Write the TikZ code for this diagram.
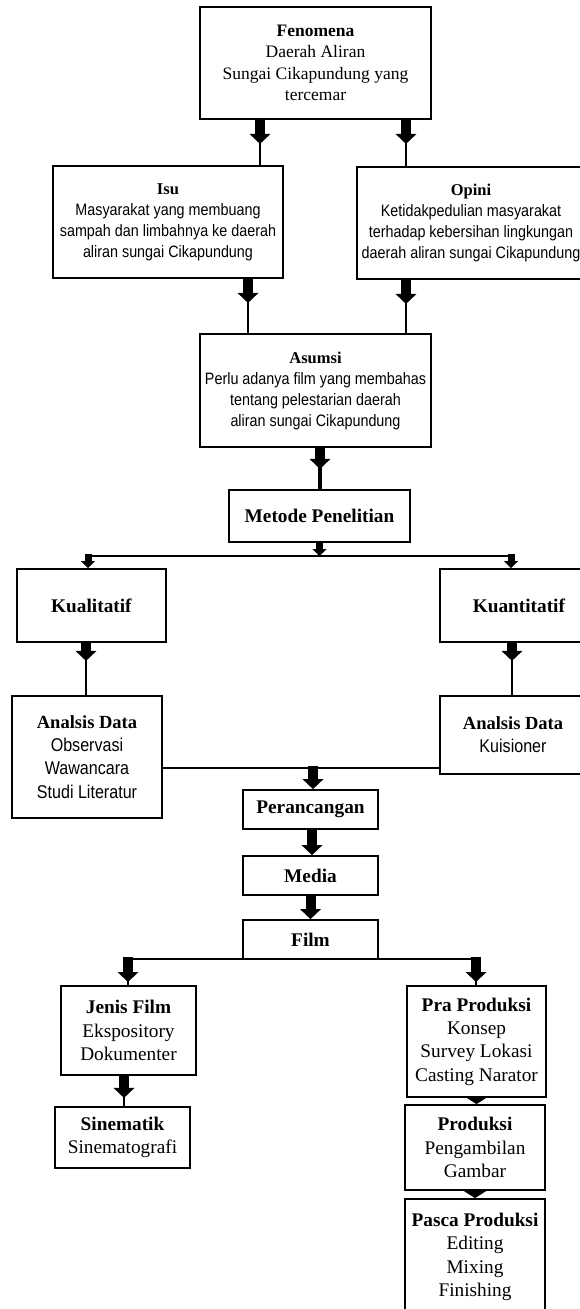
\documentclass[tikz,border=0pt]{standalone}
\usepackage{fontspec}
\setmainfont{Liberation Serif}
\newfontfamily\narrowsans{Liberation Sans}[FakeStretch=0.87]
\usetikzlibrary{arrows.meta}
\tikzset{
  box/.style={draw, line width=1.8pt, align=center, inner sep=0pt},
  smallfont/.style={font=\fontsize{16.5}{21}\selectfont},
  midfont/.style={font=\fontsize{17.5}{21.3}\selectfont},
  bigfont/.style={font=\fontsize{19.3}{23.4}\selectfont},
  link/.style={line width=1.3pt},
  blockarrow/.style={line width=10pt, -{Triangle[width=21pt,length=10pt,line width=0pt]}},
  arrowsmall/.style={line width=7pt, -{Triangle[width=14pt,length=7pt,line width=0pt]}},
  arrowtiny/.style={line width=8pt, -{Triangle[width=22pt,length=7pt,line width=0pt]}}
}
\begin{document}
\begin{tikzpicture}[x=1pt, y=-1pt]
    \useasboundingbox (0, 0) rectangle (579, 1309) ;
    \node[box, midfont, minimum width=231pt, minimum height=112pt] (fen) at (315.5, 63)
      {\textbf{Fenomena}\\Daerah Aliran\\Sungai Cikapundung yang\\tercemar} ;
    \node[box, smallfont, minimum width=230pt, minimum height=112pt] (isu) at (168, 222)
      {\textbf{Isu}\\{\narrowsans Masyarakat yang membuang}\\{\narrowsans sampah dan limbahnya ke daerah}\\{\narrowsans aliran sungai Cikapundung}} ;
    \node[box, smallfont, minimum width=228pt, minimum height=112pt] (opini) at (471, 223)
      {\textbf{Opini}\\{\narrowsans Ketidakpedulian masyarakat}\\{\narrowsans terhadap kebersihan lingkungan}\\{\narrowsans daerah aliran sungai Cikapundung}} ;
    \node[box, smallfont, minimum width=231pt, minimum height=113pt] (asumsi) at (315.5, 390.5)
      {\textbf{Asumsi}\\{\narrowsans Perlu adanya film yang membahas}\\{\narrowsans tentang pelestarian daerah}\\{\narrowsans aliran sungai Cikapundung}} ;
    \node[box, bigfont, minimum width=181pt, minimum height=52pt] (metode) at (319.5, 516) {\textbf{Metode Penelitian}} ;
    \node[box, bigfont, minimum width=149pt, minimum height=73pt] (kuali) at (91.5, 605.5) {\textbf{Kualitatif}} ;
    \node[box, bigfont, minimum width=158pt, minimum height=73pt] (kuanti) at (519, 605.5) {\textbf{Kuantitatif}} ;
    \node[box, font=\fontsize{18.5}{23.3}\selectfont, minimum width=150pt, minimum height=122pt] (anakual) at (87, 757)
      {\textbf{Analsis Data}\\{\narrowsans Observasi}\\{\narrowsans Wawancara}\\{\narrowsans Studi Literatur}} ;
    \node[box, font=\fontsize{18.5}{23.3}\selectfont, minimum width=146pt, minimum height=78pt] (anakuan) at (513, 735)
      {\textbf{Analsis Data}\\{\narrowsans Kuisioner}} ;
    \node[box, bigfont, minimum width=135pt, minimum height=39pt] (peran) at (310.5, 809.5) {\textbf{Perancangan}} ;
    \node[box, bigfont, minimum width=135pt, minimum height=39pt] (media) at (310.5, 875.5) {\textbf{Media}} ;
    \node[box, bigfont, minimum width=135pt, minimum height=39pt] (film) at (310.5, 939.5) {\textbf{Film}} ;
    \node[box, bigfont, minimum width=135pt, minimum height=89pt] (jenis) at (128.5, 1030.5)
      {\textbf{Jenis Film}\\Ekspository\\Dokumenter} ;
    \node[box, bigfont, minimum width=135pt, minimum height=61pt] (sinem) at (122.5, 1137.5)
      {\textbf{Sinematik}\\Sinematografi} ;
    \node[box, bigfont, minimum width=139pt, minimum height=111pt] (pra) at (476.5, 1041.5)
      {\textbf{Pra Produksi}\\Konsep\\Survey Lokasi\\Casting Narator} ;
    \node[box, bigfont, minimum width=140pt, minimum height=85pt] (prod) at (475, 1147.5)
      {\textbf{Produksi}\\Pengambilan\\Gambar} ;
    \node[box, bigfont, minimum width=140pt, minimum height=116pt] (pasca) at (475, 1257)
      {\textbf{Pasca Produksi}\\Editing\\Mixing\\Finishing} ;
    \draw[link] ([xshift=-55.5pt]fen.south) -- ([xshift=92pt]isu.north) ;
    \draw[blockarrow] ([xshift=-55.5pt]fen.south) -- ++(0, 24) ;
    \draw[link] ([xshift=90.5pt]fen.south) -- ([xshift=-65pt]opini.north) ;
    \draw[blockarrow] ([xshift=90.5pt]fen.south) -- ++(0, 24) ;
    \draw[link] ([xshift=80pt]isu.south) -- ([xshift=-67.5pt]asumsi.north) ;
    \draw[blockarrow] ([xshift=80pt]isu.south) -- ++(0, 24) ;
    \draw[link] ([xshift=-65pt]opini.south) -- ([xshift=90.5pt]asumsi.north) ;
    \draw[blockarrow] ([xshift=-65pt]opini.south) -- ++(0, 24) ;
    \draw[line width=4pt] ([xshift=4.5pt]asumsi.south) -- ([xshift=0.5pt]metode.north) ;
    \draw[blockarrow] ([xshift=4.5pt]asumsi.south) -- ++(0, 21) ;
    \coordinate (cabang1) at (88, 556) ;
    \coordinate (cabang2) at (511, 556) ;
    \draw[link] (cabang1) -- (cabang2) ;
    \draw[arrowsmall] (metode.south) -- (metode.south |- cabang1) ;
    \draw[arrowsmall] ([yshift=2pt]cabang1) -- (cabang1 |- kuali.north) ;
    \draw[arrowsmall] ([yshift=2pt]cabang2) -- (cabang2 |- kuanti.north) ;
    \draw[link] ([xshift=-5.5pt]kuali.south) -- ([xshift=-1pt]anakual.north) ;
    \draw[blockarrow] ([xshift=-5.5pt]kuali.south) -- ++(0, 18) ;
    \draw[link] ([xshift=-7pt]kuanti.south) -- ([xshift=-1pt]anakuan.north) ;
    \draw[blockarrow] ([xshift=-7pt]kuanti.south) -- ++(0, 18) ;
    \coordinate (gabung) at (313, 768) ;
    \draw[link] (anakual.east |- gabung) -- (anakuan.west |- gabung) ;
    \draw[blockarrow] ([yshift=2pt]gabung) -- (gabung |- peran.north) ;
    \draw[blockarrow] ([xshift=1.5pt]peran.south) -- ([xshift=1.5pt]media.north) ;
    \draw[blockarrow] (media.south) -- (film.north) ;
    \coordinate (cabang3) at (128, 959) ;
    \coordinate (cabang4) at (476, 959) ;
    \draw[link] (cabang3) -- (cabang4) ;
    \draw[link] (cabang3) -- (cabang3 |- jenis.north) ;
    \draw[blockarrow] ([yshift=2pt]cabang3) -- ++(0, 25) ;
    \draw[link] (cabang4) -- (cabang4 |- pra.north) ;
    \draw[blockarrow] ([yshift=2pt]cabang4) -- ++(0, 25) ;
    \draw[link] ([xshift=-4.5pt]jenis.south) -- ([xshift=1.5pt]sinem.north) ;
    \draw[blockarrow] ([xshift=-4.5pt]jenis.south) -- ++(0, 22) ;
    \draw[arrowtiny] (pra.south) -- (pra.south |- prod.north) ;
    \draw[arrowtiny] (prod.south) -- (prod.south |- pasca.north) ;
  \end{tikzpicture}
\end{document}
